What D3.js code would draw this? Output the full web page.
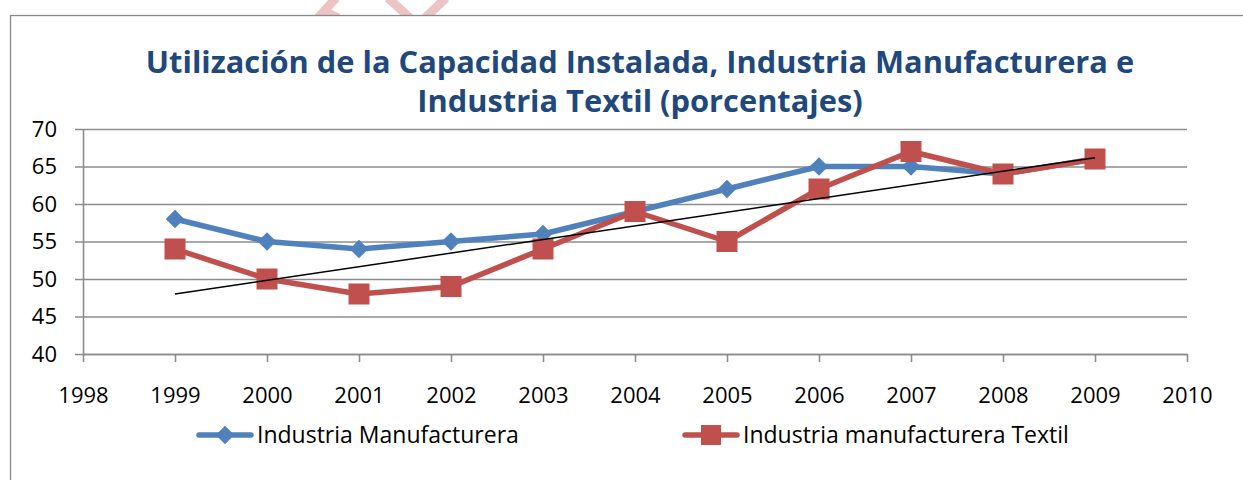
<!DOCTYPE html>
<html>
<head>
<meta charset="utf-8">
<script src="https://cdn.jsdelivr.net/npm/d3@7"></script>
<style>
  body { margin:0; background:#fff; }
  svg { display:block; font-family: "Open Sans", Lato, sans-serif; }
</style>
</head>
<body>
<div id="chart"></div>
<script>
// data
let years = [1999,2000,2001,2002,2003,2004,2005,2006,2007,2008,2009]
let manufacturera = [58,55,54,55,56,59,62,65,65,64,66]
let textil = [54,50,48,49,54,59,55,62,67,64,66]
let yTicks = [40,45,50,55,60,65,70]
let xTicks = [1998,1999,2000,2001,2002,2003,2004,2005,2006,2007,2008,2009,2010]
let seriesNames = ["Industria Manufacturera","Industria manufacturera Textil"]

function render(){
  let width = 1243, height = 480,
      margin = { top:129, left:83 },
      innerWidth = 1187 - margin.left,
      innerHeight = 354 - margin.top

  let svg = d3.select("#chart").append("svg")
    .attr("width",width).attr("height",height)

  // bits of the pink watermark above the frame
  let wm = svg.append("g").attr("stroke","#ecc4c4").attr("stroke-width",9).attr("fill","none")
  wm.append("path").attr("d","M318,18 L336,-2")
  wm.append("path").attr("d","M322,10 L338,18")
  wm.append("path").attr("d","M388,-2 L410,18")
  wm.append("path").attr("d","M425,18 L446,-2")

  // chart frame
  svg.append("rect").attr("x",10.5).attr("y",15.5).attr("width",1300).attr("height",600)
    .attr("fill","#fff").attr("stroke","#888").attr("stroke-width",1.3)

  let xScale = d3.scaleLinear().domain([1998,2010]).range([0,innerWidth])
  let yScale = d3.scaleLinear().domain([40,70]).range([innerHeight,0])

  let g = svg.append("g").attr("transform",`translate(${margin.left},${margin.top})`)

  // title
  let title = svg.append("text").attr("text-anchor","middle")
    .attr("fill","#1F497D").attr("font-weight","bold").attr("font-size",30.8)
  title.append("tspan").attr("x",640).attr("y",73).text("Utilización de la Capacidad Instalada, Industria Manufacturera e")
  title.append("tspan").attr("x",640).attr("y",112).text("Industria Textil (porcentajes)")

  // gridlines
  let yAxis = d3.axisLeft(yScale).tickValues(yTicks).tickSize(-innerWidth).tickSizeOuter(0).tickPadding(26)
  let yGroup = g.append("g").call(yAxis)
  yGroup.selectAll(".tick line").attr("stroke","#8c8c8c").attr("stroke-width",1.6).attr("x1",-8)
  yGroup.selectAll(".tick text").attr("font-size",22).attr("fill","#000").attr("font-family","Open Sans")
  yGroup.select(".domain").attr("stroke","#8c8c8c").attr("stroke-width",1.6)

  let xAxis = d3.axisBottom(xScale).tickValues(xTicks).tickFormat(d3.format("d")).tickSize(8).tickSizeOuter(0).tickPadding(25)
  let xGroup = g.append("g").attr("transform",`translate(0,${innerHeight})`).call(xAxis)
  xGroup.selectAll(".tick line").attr("stroke","#8c8c8c").attr("stroke-width",1.6)
  xGroup.selectAll(".tick text").attr("font-size",22).attr("fill","#000").attr("font-family","Open Sans")
  xGroup.select(".domain").attr("stroke","#8c8c8c").attr("stroke-width",1.6)

  let blue = "#4F81BD", red = "#C0504D"
  let line = d3.line().x(d=>xScale(d[0])).y(d=>yScale(d[1]))

  let manData = years.map((y,i)=>[y,manufacturera[i]])
  let texData = years.map((y,i)=>[y,textil[i]])

  g.append("path").attr("d",line(manData)).attr("fill","none")
    .attr("stroke",blue).attr("stroke-width",5.5).attr("stroke-linejoin","round")
  let diamond = d3.symbol().type(d3.symbolDiamond2).size(220)
  g.selectAll(".dia").data(manData).enter().append("path").attr("class","dia")
    .attr("d",diamond).attr("fill",blue)
    .attr("transform",d=>`translate(${xScale(d[0])},${yScale(d[1])})`)

  g.append("path").attr("d",line(texData)).attr("fill","none")
    .attr("stroke",red).attr("stroke-width",5.5).attr("stroke-linejoin","round")
  g.selectAll(".sq").data(texData).enter().append("rect").attr("class","sq")
    .attr("x",d=>xScale(d[0])-10.5).attr("y",d=>yScale(d[1])-10.5)
    .attr("width",21).attr("height",21).attr("fill",red)

  // linear trend of the textile series (least squares)
  let mx = d3.mean(years), my = d3.mean(textil)
  let slope = d3.sum(years,(x,i)=>(x-mx)*(textil[i]-my)) / d3.sum(years,x=>(x-mx)*(x-mx))
  let trend = [years[0],years[years.length-1]].map(x=>[x,my+slope*(x-mx)])
  g.append("path").attr("d",line(trend)).attr("stroke","#000").attr("stroke-width",1.5).attr("fill","none")

  // legend
  let legend = svg.append("g").attr("transform","translate(0,435)")
  let items = [
    {name:seriesNames[0], color:blue, x:197, type:"dia"},
    {name:seriesNames[1], color:red, x:683, type:"sq"}
  ]
  items.forEach(it=>{
    let lg = legend.append("g").attr("transform",`translate(${it.x},0)`)
    lg.append("line").attr("x1",2).attr("x2",54).attr("stroke",it.color).attr("stroke-width",5.5).attr("stroke-linecap","round")
    if(it.type=="dia"){
      lg.append("path").attr("d",diamond).attr("fill",it.color).attr("transform","translate(28,0)")
    } else {
      lg.append("rect").attr("x",18).attr("y",-10).attr("width",20).attr("height",20).attr("fill",it.color)
    }
    lg.append("text").attr("x",60).attr("y",8).attr("font-size",23).text(it.name)
  })
}
render()
</script>
</body>
</html>
